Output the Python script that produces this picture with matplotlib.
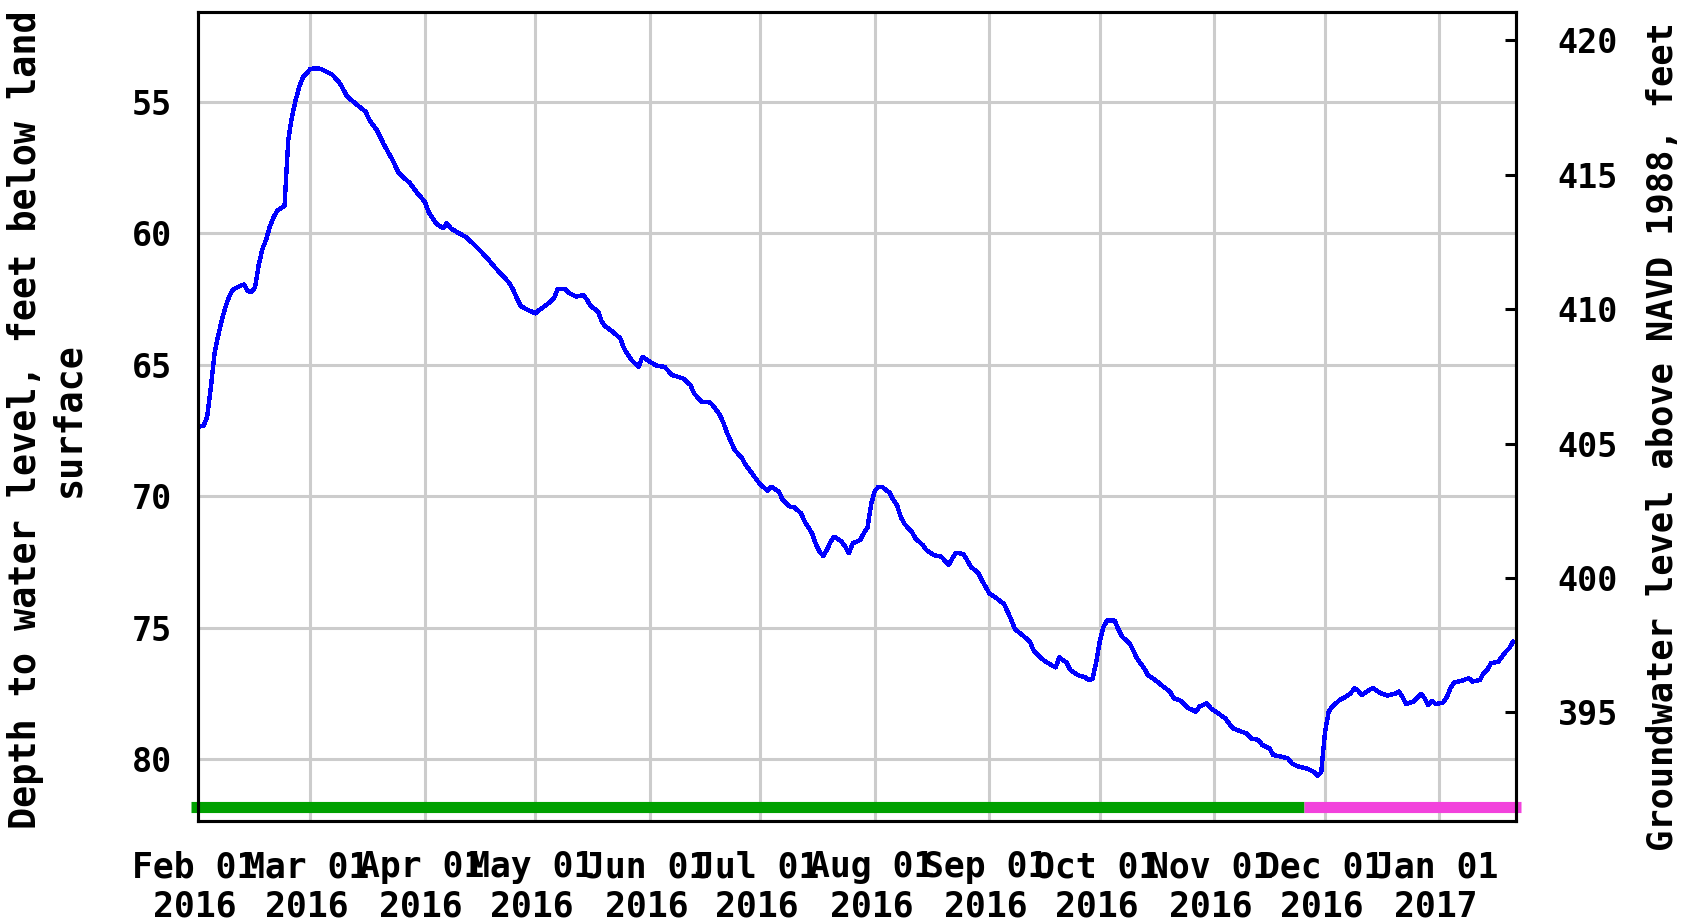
import matplotlib
matplotlib.use("Agg")
import matplotlib.pyplot as plt
import matplotlib.transforms as mtransforms
import pandas as pd

# ---------------- data ----------------
dates = [
    "2016-01-31", "2016-02-01", "2016-02-02", "2016-02-03", "2016-02-04", "2016-02-05",
    "2016-02-06", "2016-02-07", "2016-02-08", "2016-02-09", "2016-02-11", "2016-02-12",
    "2016-02-13", "2016-02-14", "2016-02-15", "2016-02-16", "2016-02-17", "2016-02-18",
    "2016-02-19", "2016-02-20", "2016-02-21", "2016-02-22", "2016-02-23", "2016-02-24",
    "2016-02-25", "2016-02-26", "2016-02-27", "2016-02-28", "2016-02-29", "2016-03-01",
    "2016-03-03", "2016-03-04", "2016-03-07", "2016-03-09", "2016-03-11", "2016-03-14",
    "2016-03-16", "2016-03-17", "2016-03-19", "2016-03-21", "2016-03-23", "2016-03-25",
    "2016-03-28", "2016-03-30", "2016-04-01", "2016-04-02", "2016-04-04", "2016-04-06",
    "2016-04-07", "2016-04-08", "2016-04-10", "2016-04-12", "2016-04-14", "2016-04-16",
    "2016-04-18", "2016-04-20", "2016-04-22", "2016-04-24", "2016-04-25", "2016-04-26",
    "2016-04-27", "2016-04-29", "2016-05-01", "2016-05-02", "2016-05-04", "2016-05-06",
    "2016-05-07", "2016-05-09", "2016-05-10", "2016-05-12", "2016-05-14", "2016-05-15",
    "2016-05-16", "2016-05-18", "2016-05-19", "2016-05-20", "2016-05-22", "2016-05-24",
    "2016-05-25", "2016-05-27", "2016-05-29", "2016-05-30", "2016-06-01", "2016-06-03",
    "2016-06-05", "2016-06-07", "2016-06-10", "2016-06-12", "2016-06-13", "2016-06-15",
    "2016-06-17", "2016-06-18", "2016-06-20", "2016-06-21", "2016-06-22", "2016-06-23",
    "2016-06-24", "2016-06-26", "2016-06-27", "2016-06-29", "2016-07-01", "2016-07-03",
    "2016-07-04", "2016-07-06", "2016-07-07", "2016-07-09", "2016-07-10", "2016-07-12",
    "2016-07-13", "2016-07-15", "2016-07-16", "2016-07-17", "2016-07-18", "2016-07-19",
    "2016-07-20", "2016-07-21", "2016-07-23", "2016-07-24", "2016-07-25", "2016-07-26",
    "2016-07-28", "2016-07-29", "2016-07-30", "2016-07-31", "2016-08-01", "2016-08-02",
    "2016-08-03", "2016-08-05", "2016-08-06", "2016-08-07", "2016-08-08", "2016-08-09",
    "2016-08-11", "2016-08-12", "2016-08-14", "2016-08-15", "2016-08-17", "2016-08-19",
    "2016-08-20", "2016-08-21", "2016-08-22", "2016-08-23", "2016-08-25", "2016-08-26",
    "2016-08-27", "2016-08-29", "2016-08-30", "2016-08-31", "2016-09-01", "2016-09-03",
    "2016-09-05", "2016-09-06", "2016-09-07", "2016-09-08", "2016-09-10", "2016-09-12",
    "2016-09-13", "2016-09-15", "2016-09-17", "2016-09-19", "2016-09-20", "2016-09-22",
    "2016-09-23", "2016-09-25", "2016-09-27", "2016-09-28", "2016-09-29", "2016-09-30",
    "2016-10-01", "2016-10-02", "2016-10-03", "2016-10-05", "2016-10-06", "2016-10-07",
    "2016-10-09", "2016-10-10", "2016-10-11", "2016-10-13", "2016-10-14", "2016-10-16",
    "2016-10-18", "2016-10-20", "2016-10-21", "2016-10-23", "2016-10-25", "2016-10-27",
    "2016-10-28", "2016-10-30", "2016-10-31", "2016-11-02", "2016-11-04", "2016-11-05",
    "2016-11-06", "2016-11-08", "2016-11-10", "2016-11-11", "2016-11-13", "2016-11-14",
    "2016-11-16", "2016-11-17", "2016-11-19", "2016-11-21", "2016-11-22", "2016-11-24",
    "2016-11-26", "2016-11-28", "2016-11-29", "2016-11-30", "2016-12-01", "2016-12-02",
    "2016-12-03", "2016-12-05", "2016-12-06", "2016-12-08", "2016-12-09", "2016-12-10",
    "2016-12-11", "2016-12-13", "2016-12-14", "2016-12-16", "2016-12-18", "2016-12-20",
    "2016-12-21", "2016-12-22", "2016-12-23", "2016-12-25", "2016-12-27", "2016-12-28",
    "2016-12-29", "2016-12-30", "2016-12-31", "2017-01-02", "2017-01-03", "2017-01-04",
    "2017-01-05", "2017-01-07", "2017-01-09", "2017-01-10", "2017-01-12", "2017-01-13",
    "2017-01-14", "2017-01-15", "2017-01-17", "2017-01-18", "2017-01-19", "2017-01-20",
    "2017-01-21",
]
depth_ft = [
    67.35, 67.33, 67.00, 65.90, 64.60, 63.90,
    63.30, 62.80, 62.40, 62.15, 62.00, 61.95,
    62.20, 62.25, 62.05, 61.20, 60.60, 60.25,
    59.75, 59.40, 59.15, 59.05, 58.95, 56.46,
    55.57, 54.94, 54.43, 54.07, 53.92, 53.75,
    53.73, 53.77, 53.98, 54.30, 54.81, 55.16,
    55.38, 55.70, 56.08, 56.65, 57.15, 57.72,
    58.10, 58.48, 58.80, 59.18, 59.62, 59.81,
    59.62, 59.81, 59.98, 60.13, 60.38, 60.66,
    60.96, 61.30, 61.59, 61.91, 62.16, 62.48,
    62.77, 62.92, 63.05, 62.92, 62.73, 62.48,
    62.13, 62.13, 62.26, 62.41, 62.35, 62.54,
    62.77, 62.98, 63.37, 63.55, 63.75, 64.00,
    64.38, 64.82, 65.08, 64.70, 64.89, 65.05,
    65.08, 65.39, 65.52, 65.77, 66.09, 66.41,
    66.41, 66.53, 66.91, 67.23, 67.61, 67.93,
    68.24, 68.56, 68.81, 69.19, 69.57, 69.79,
    69.64, 69.83, 70.14, 70.40, 70.40, 70.65,
    70.97, 71.41, 71.82, 72.11, 72.27, 72.05,
    71.73, 71.54, 71.73, 71.92, 72.17, 71.79,
    71.67, 71.41, 71.20, 70.30, 69.80, 69.64,
    69.65, 69.87, 70.14, 70.33, 70.78, 71.05,
    71.35, 71.60, 71.86, 72.05, 72.24, 72.30,
    72.45, 72.62, 72.36, 72.15, 72.20, 72.43,
    72.68, 72.91, 73.19, 73.44, 73.69, 73.88,
    74.10, 74.39, 74.71, 75.06, 75.28, 75.53,
    75.85, 76.16, 76.35, 76.51, 76.13, 76.33,
    76.61, 76.80, 76.89, 76.99, 76.95, 76.30,
    75.50, 74.96, 74.72, 74.73, 75.06, 75.34,
    75.59, 75.85, 76.16, 76.54, 76.80, 76.99,
    77.22, 77.43, 77.68, 77.78, 78.06, 78.19,
    78.00, 77.87, 78.06, 78.25, 78.45, 78.64,
    78.82, 78.93, 79.04, 79.21, 79.27, 79.46,
    79.59, 79.84, 79.90, 79.97, 80.16, 80.29,
    80.35, 80.48, 80.64, 80.50, 79.00, 78.20,
    78.00, 77.75, 77.68, 77.49, 77.30, 77.39,
    77.56, 77.37, 77.30, 77.49, 77.58, 77.51,
    77.43, 77.62, 77.90, 77.81, 77.51, 77.68,
    77.94, 77.78, 77.90, 77.85, 77.65, 77.30,
    77.09, 77.02, 76.92, 77.05, 76.99, 76.73,
    76.61, 76.35, 76.29, 76.10, 75.91, 75.78,
    75.53,
]

period = ("2016-01-30 13:00", "2017-01-21 19:00")
month_ticks = ["2016-03-01", "2016-04-01", "2016-05-01", "2016-06-01",
               "2016-07-01", "2016-08-01", "2016-09-01", "2016-10-01",
               "2016-11-01", "2016-12-01", "2017-01-01"]
tick_labels = ["Feb 01\n2016", "Mar 01\n2016", "Apr 01\n2016", "May 01\n2016",
               "Jun 01\n2016", "Jul 01\n2016", "Aug 01\n2016", "Sep 01\n2016",
               "Oct 01\n2016", "Nov 01\n2016", "Dec 01\n2016", "Jan 01\n2017"]
depth_ticks = [55, 60, 65, 70, 75, 80]
depth_limits = (82.35, 51.59)
elev_ticks = [395, 400, 405, 410, 415, 420]
elev_limits = (390.96, 421.05)
approved_span = ("2016-01-28 16:00", "2016-11-25 10:00")
provisional_span = ("2016-11-25 10:00", "2017-01-23 05:00")
status_bar_depth = 81.8

left_label = "Depth to water level, feet below land\nsurface"
right_label = "Groundwater level above NAVD 1988, feet"

# ---------------- figure ----------------
FONT = "DejaVu Sans Mono"
plt.rcParams["font.family"] = FONT
plt.rcParams["font.weight"] = "bold"

fig = plt.figure(figsize=(16.82, 9.19), dpi=100)
ax = fig.add_axes([198 / 1682, 1 - 821 / 919, (1516 - 198) / 1682, (821 - 12) / 919])

x0, x1 = pd.to_datetime(period[0]), pd.to_datetime(period[1])
ax.set_xlim(x0, x1)
ax.set_ylim(*depth_limits)

grid_kw = dict(color="#cccccc", lw=2.2, zorder=1)
for m in month_ticks:
    ax.axvline(pd.to_datetime(m), **grid_kw)
for d in depth_ticks:
    ax.axhline(d, **grid_kw)

ax.plot(pd.to_datetime(dates), depth_ft, color="#0000ff", lw=2.4, zorder=3,
        antialiased=False)

ax.plot(pd.to_datetime(list(approved_span)), [status_bar_depth] * 2,
        color="#00a000", lw=8, solid_capstyle="butt", clip_on=False, zorder=4)
ax.plot(pd.to_datetime(list(provisional_span)), [status_bar_depth] * 2,
        color="#f242dc", lw=8, solid_capstyle="butt", clip_on=False, zorder=4)

ax.set_xticks([x0] + list(pd.to_datetime(month_ticks)))
ax.set_xticklabels(tick_labels, fontsize=25, fontweight="bold")
ax.tick_params(axis="x", length=0, pad=21)
offset = mtransforms.ScaledTranslation(-3.5 / 100, 0, fig.dpi_scale_trans)
for lab in ax.get_xticklabels():
    lab.set_transform(lab.get_transform() + offset)

ax.set_yticks(depth_ticks)
ax.set_yticklabels([str(t) for t in depth_ticks], fontsize=24, fontweight="bold")
ax.tick_params(axis="y", length=0, pad=18.7)

for s in ax.spines.values():
    s.set_linewidth(2.2)
    s.set_color("black")
    s.set_zorder(5)

ax2 = ax.twinx()
ax2.set_ylim(*elev_limits)
ax2.set_yticks(elev_ticks)
ax2.set_yticklabels([str(t) for t in elev_ticks], fontsize=24, fontweight="bold")
ax2.tick_params(axis="y", direction="in", length=8, width=2.2, pad=30)
for s in ax2.spines.values():
    s.set_linewidth(2.2)

fig.text(47 / 1682, 1 - 420 / 919, left_label, rotation=90, ha="center", va="center",
         multialignment="center", fontsize=26.5, fontweight="bold")
fig.text(1663.5 / 1682, 1 - 437 / 919, right_label, rotation=90, ha="center", va="center",
         fontsize=25.5, fontweight="bold")

fig.savefig("out.png", dpi=100, facecolor="white")
